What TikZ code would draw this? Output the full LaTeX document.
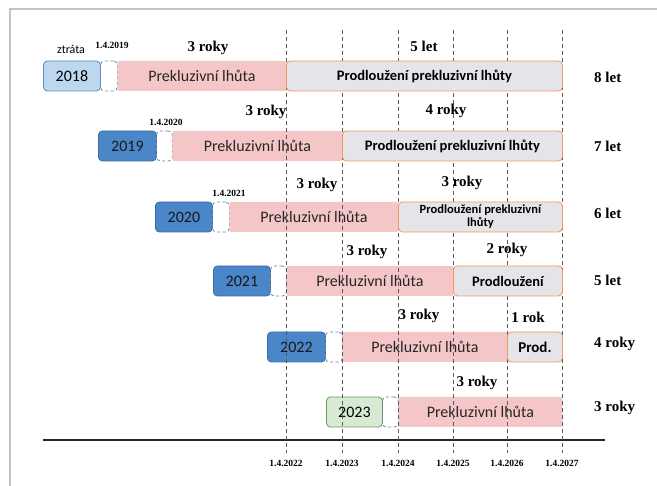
\documentclass[tikz,border=0pt]{standalone}
\usepackage{fontspec}
\setmainfont{Liberation Serif}
\newfontfamily\calfont{Carlito}
\definecolor{pinkc}{HTML}{F5C6C8}
\definecolor{grayc}{HTML}{E5E5E9}
\definecolor{orangec}{HTML}{EE9A5C}
\definecolor{lblue}{HTML}{BDD7EE}
\definecolor{lblueb}{HTML}{5B8CC0}
\definecolor{mblue}{HTML}{4A86C8}
\definecolor{mblueb}{HTML}{3A6EA5}
\definecolor{lgreen}{HTML}{D8EAD3}
\definecolor{lgreenb}{HTML}{6E9A5E}
\definecolor{dashc}{HTML}{6A86A8}
\definecolor{vlinec}{HTML}{5A5A5A}
\definecolor{framec}{HTML}{C4C4C4}
\begin{document}
\begin{tikzpicture}[x=1pt,y=-1pt,
  base/.style={rounded corners=4pt, minimum height=30pt, inner sep=0pt, anchor=west, line width=0.8pt},
  yrA/.style={base, fill=lblue, draw=lblueb, font=\calfont\fontsize{16}{18}\selectfont},
  yrB/.style={base, fill=mblue, draw=mblueb, font=\calfont\fontsize{16}{18}\selectfont, text=black!90},
  yrC/.style={base, fill=lgreen, draw=lgreenb, font=\calfont\fontsize{16}{18}\selectfont},
  dbox/.style={base, draw=dashc, dash pattern=on 3pt off 2.5pt},
  pinkbar/.style={base, fill=pinkc, draw=none, rounded corners=2pt, text=black!85, font=\calfont\fontsize{16}{18}\selectfont},
  graybox/.style={base, fill=grayc, draw=orangec, font=\calfont\bfseries\fontsize{14.5}{16}\selectfont},
  lbl/.style={font=\bfseries\fontsize{15}{17}\selectfont, inner sep=0pt},
  rlbl/.style={font=\bfseries\fontsize{15}{17}\selectfont, inner sep=0pt, anchor=west},
  dt/.style={font=\bfseries\fontsize{9.5}{11}\selectfont, inner sep=0pt},
  vline/.style={draw=vlinec, line width=0.7pt, dash pattern=on 4pt off 3pt}
]
\useasboundingbox (0,0) rectangle (657,486);
% frame
\draw[framec, line width=1.5pt] (10,486) -- (10,9) -- (657,9);
% axis
\coordinate (axL) at (43,440);
\coordinate (axR) at (605,440);
\draw[black!85, line width=2.5pt] (axL) -- (axR);

% row 1 (2018)
\node[yrA, minimum width=57pt] (y18) at (43,76) {2018};
\node[dbox, minimum width=17pt] (d18) at (100,76) {};
\node[pinkbar, minimum width=169pt] (p18) at (117,76) {Prekluzivní lhůta};
% row 2 (2019)
\node[yrB, minimum width=58pt] (y19) at (98,146) {2019};
\node[dbox, minimum width=16pt] (d19) at (156,146) {};
\node[pinkbar, minimum width=170pt] (p19) at (172,146) {Prekluzivní lhůta};
% row 3 (2020)
\node[yrB, minimum width=57pt] (y20) at (155,217) {2020};
\node[dbox, minimum width=17pt] (d20) at (212,217) {};
\node[pinkbar, minimum width=169pt] (p20) at (229,217) {Prekluzivní lhůta};
% row 4 (2021)
\node[yrB, minimum width=57pt] (y21) at (213,281) {2021};
\node[dbox, minimum width=16pt] (d21) at (270,281) {};
\node[pinkbar, minimum width=167pt] (p21) at (286,281) {Prekluzivní lhůta};
% row 5 (2022)
\node[yrB, minimum width=58pt] (y22) at (267,347) {2022};
\node[dbox, minimum width=17pt] (d22) at (325,347) {};
\node[pinkbar, minimum width=165pt] (p22) at (342,347) {Prekluzivní lhůta};
% row 6 (2023)
\node[yrC, minimum width=56pt] (y23) at (326,412) {2023};
\node[dbox, minimum width=16pt] (d23) at (382,412) {};
\node[pinkbar, minimum width=164pt] (p23) at (398,412) {Prekluzivní lhůta};

% vertical dashed lines and date labels
\foreach \x/\n in {286/2022,342/2023,398/2024,453/2025,507/2026,562/2027}{
  \coordinate (t\n) at (\x,30);
  \coordinate (b\n) at (\x,453);
  \draw[vline] (t\n) -- (b\n);
  \node[dt] (l\n) at (\x,463) {1.4.\n};
}

% grey extension boxes
\node[graybox, minimum width=276pt] (g18) at (286,76) {Prodloužení prekluzivní lhůty};
\node[graybox, minimum width=220pt] (g19) at (342,146) {Prodloužení prekluzivní lhůty};
\node[graybox, minimum width=164pt, align=center, font=\calfont\bfseries\fontsize{12.5}{13}\selectfont] (g20) at (398,217) {Prodloužení prekluzivní\\lhůty};
\node[graybox, minimum width=109pt] (g21) at (453,281) {Prodloužení};
\node[graybox, minimum width=55pt, font=\calfont\bfseries\fontsize{15}{16}\selectfont] (g22) at (507,347) {Prod.};

% top labels
\node[font=\calfont\fontsize{12}{14}\selectfont, inner sep=0pt] (ztr) at (71,49) {ztráta};
\node[dt] (d2019) at (112,45) {1.4.2019};
\node[lbl] (a18) at (208,48) {3 roky};
\node[lbl] (b18) at (424,46) {5 let};
\node[lbl] (a19) at (266,112) {3 roky};
\node[dt] (d2020) at (166,122) {1.4.2020};
\node[lbl] (b19) at (446,111) {4 roky};
\node[lbl] (a20) at (317,185) {3 roky};
\node[dt] (d2021) at (229,193) {1.4.2021};
\node[lbl] (b20) at (462,183) {3 roky};
\node[lbl] (a21) at (367,252) {3 roky};
\node[lbl] (b21) at (507,250) {2 roky};
\node[lbl] (a22) at (419,316) {3 roky};
\node[lbl] (b22) at (528,317) {1 rok};
\node[lbl] (a23) at (477,383) {3 roky};

% right totals
\node[rlbl] (r18) at (594,77) {8 let};
\node[rlbl] (r19) at (594,146) {7 let};
\node[rlbl] (r20) at (594,213) {6 let};
\node[rlbl] (r21) at (594,280) {5 let};
\node[rlbl] (r22) at (594,344) {4 roky};
\node[rlbl] (r23) at (594,408) {3 roky};
\end{tikzpicture}
\end{document}
